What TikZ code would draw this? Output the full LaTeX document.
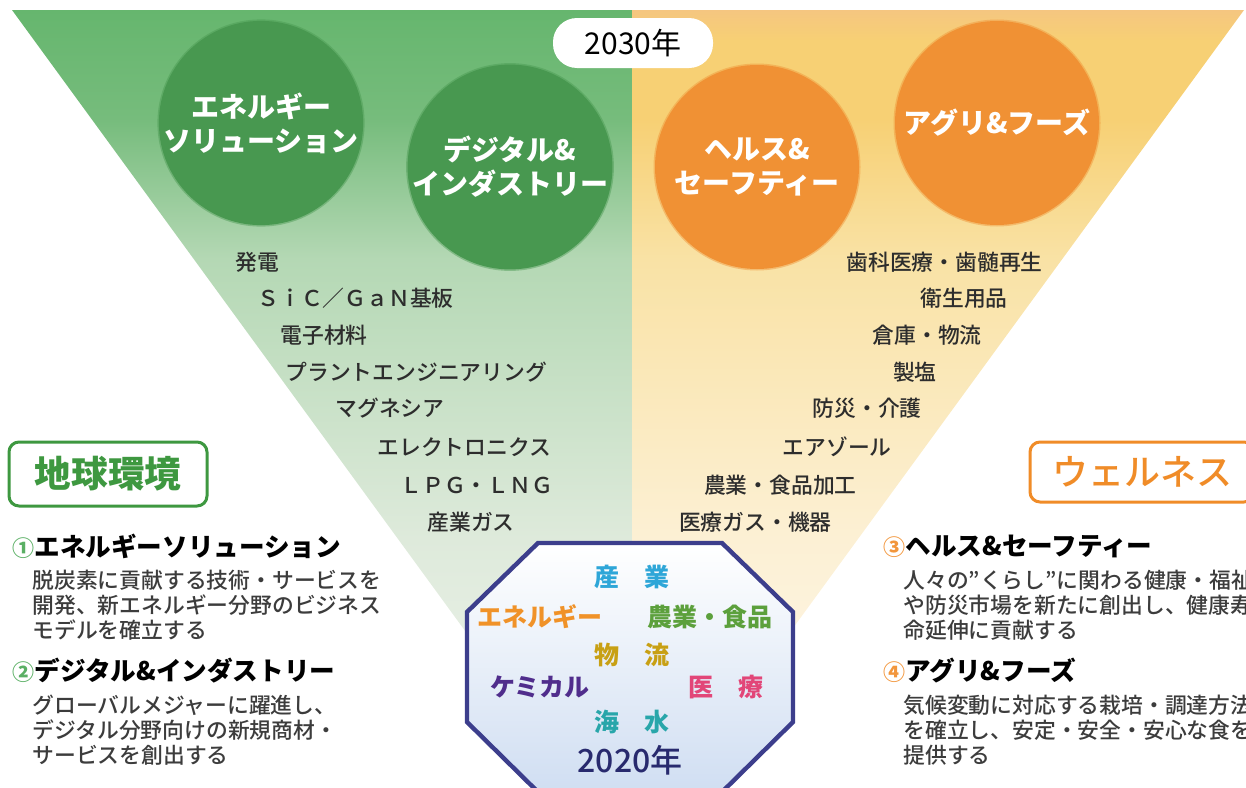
\documentclass[tikz,border=0pt]{standalone}
\usepackage{fontspec}
\setmainfont{Noto Sans CJK JP}
\newfontfamily\cjkmed{Noto Sans CJK JP Medium}
\definecolor{fanGa}{RGB}{240,244,238}
\definecolor{fanGb}{RGB}{222,234,219}
\definecolor{fanGc}{RGB}{180,216,180}
\definecolor{fanGd}{RGB}{118,188,124}
\definecolor{fanGe}{RGB}{102,182,110}
\definecolor{fanOa}{RGB}{254,248,236}
\definecolor{fanOb}{RGB}{252,240,212}
\definecolor{fanOc}{RGB}{249,226,165}
\definecolor{fanOd}{RGB}{247,208,116}
\definecolor{fanOe}{RGB}{245,198,128}
\pgfdeclareverticalshading{greenfan}{100bp}{color(0bp)=(fanGa); color(25bp)=(fanGa); color(41bp)=(fanGb); color(59bp)=(fanGc); color(68bp)=(fanGd); color(75bp)=(fanGe); color(100bp)=(fanGe)}
\pgfdeclareverticalshading{orangefan}{100bp}{color(0bp)=(fanOa); color(25bp)=(fanOa); color(41bp)=(fanOb); color(59bp)=(fanOc); color(68bp)=(fanOd); color(73bp)=(fanOd); color(75bp)=(fanOe); color(100bp)=(fanOe)}
\definecolor{leafgreen}{RGB}{72,152,80}
\definecolor{sunorange}{RGB}{240,145,52}
\definecolor{badgegreen}{RGB}{62,152,64}
\definecolor{badgeorange}{RGB}{240,140,40}
\definecolor{numgreen}{RGB}{90,175,100}
\definecolor{numorange}{RGB}{242,150,60}
\definecolor{listgray}{RGB}{45,45,45}
\definecolor{bodygray}{RGB}{60,60,60}
\definecolor{octline}{RGB}{60,62,140}
\definecolor{octblue}{RGB}{208,222,242}
\definecolor{wSangyo}{RGB}{46,166,216}
\definecolor{wEnergy}{RGB}{240,146,40}
\definecolor{wFood}{RGB}{92,160,60}
\definecolor{wLogi}{RGB}{200,160,20}
\definecolor{wChem}{RGB}{80,45,140}
\definecolor{wMed}{RGB}{226,70,120}
\definecolor{wSea}{RGB}{40,166,170}
\definecolor{wYear}{RGB}{40,42,110}
\newcommand{\greennum}[1]{{\color{numgreen}\fontsize{11}{11}\selectfont#1}}
\newcommand{\orangenum}[1]{{\color{numorange}\fontsize{11}{11}\selectfont#1}}
\tikzset{
  bubble/.style={circle, inner sep=0pt, minimum size=102pt, text=white, align=center, draw opacity=0.45, line width=1.5pt, font=\bfseries\fontsize{14}{17}\selectfont},
  item/.style={inner sep=0pt, text=listgray, font=\cjkmed\fontsize{10.9}{12}\selectfont},
  head/.style={inner sep=0pt, anchor=west, font=\bfseries\fontsize{12.8}{14}\selectfont},
  body/.style={inner sep=0pt, anchor=west, align=left, text=bodygray, font=\cjkmed\fontsize{10.9}{12.5}\selectfont},
  badge/.style={draw, line width=1.5pt, rounded corners=5pt, inner sep=0pt, fill=white},
  octword/.style={inner sep=0pt, font=\bfseries\fontsize{12.5}{14}\selectfont},
  pill/.style={fill=white, rounded corners=12pt, minimum width=80pt, minimum height=25pt, inner sep=0pt, font=\fontsize{15}{15}\selectfont}
}
\begin{document}
\begin{tikzpicture}[x=0.5pt,y=-0.5pt]
\useasboundingbox (0,0) rectangle (1246,787);
\begin{scope}
\clip (0,0) rectangle (1246,787);
\shade[shading=greenfan] (12,10) -- (632,10) -- (632,787) -- (579,787) -- cycle;
\shade[shading=orangefan] (632,10) -- (1244,10) -- (677,787) -- (632,787) -- cycle;
\shadedraw[top color=white, bottom color=octblue, draw=octline, line width=2.2pt] (538,543) -- (722,543) -- (793,612) -- (793,722) -- (722,792) -- (538,792) -- (467,722) -- (467,612) -- cycle;
\end{scope}
\node[pill] (y2030) at (633,43) {2030年};
\node[bubble, fill=leafgreen, draw=leafgreen] (energy) at (261,123) {エネルギー\\ソリューション};
\node[bubble, fill=leafgreen, draw=leafgreen] (digital) at (510,167) {デジタル\&\\インダストリー};
\node[bubble, fill=sunorange, draw=sunorange] (health) at (757,167) {ヘルス\&\\セーフティー};
\node[bubble, fill=sunorange, draw=sunorange] (agri) at (997,123) {アグリ\&フーズ};
\node[item, anchor=west] (hatsuden) at (235,262) {発電};
\node[item, anchor=west] (sic) at (257,298) {ＳｉＣ／ＧａＮ基板};
\node[item, anchor=west] (denshi) at (280,335) {電子材料};
\node[item, anchor=west] (plant) at (285,372) {プラントエンジニアリング};
\node[item, anchor=west] (magne) at (335,408) {マグネシア};
\node[item, anchor=west] (elec) at (377,447) {エレクトロニクス};
\node[item, anchor=west] (lpg) at (400,485) {ＬＰＧ・ＬＮＧ};
\node[item, anchor=west] (gas) at (427,522) {産業ガス};
\node[item, anchor=east] (shika) at (1043,262) {歯科医療・歯髄再生};
\node[item, anchor=east] (eisei) at (1008,298) {衛生用品};
\node[item, anchor=east] (souko) at (982,335) {倉庫・物流};
\node[item, anchor=east] (seien) at (937,372) {製塩};
\node[item, anchor=east] (bousai) at (922,408) {防災・介護};
\node[item, anchor=east] (aerosol) at (892,447) {エアゾール};
\node[item, anchor=east] (nougyou) at (857,485) {農業・食品加工};
\node[item, anchor=east] (iryou) at (832,522) {医療ガス・機器};
\node[octword, text=wSangyo] (sangyo) at (632,577) {産　業};
\node[octword, text=wEnergy] (octenergy) at (540,617) {エネルギー};
\node[octword, text=wFood] (food) at (710,617) {農業・食品};
\node[octword, text=wLogi] (logi) at (632,655) {物　流};
\node[octword, text=wChem] (chem) at (540,687) {ケミカル};
\node[octword, text=wMed] (med) at (726,687) {医　療};
\node[octword, text=wSea] (sea) at (632,722) {海　水};
\node[inner sep=0pt, text=wYear, font=\cjkmed\fontsize{16}{16}\selectfont] (y2020) at (630,760) {2020年};
\node[badge, draw=badgegreen, text=badgegreen, minimum width=99pt, minimum height=32pt, font=\bfseries\fontsize{18.3}{20}\selectfont] (chikyu) at (108,474) {地球環境};
\node[badge, draw=badgeorange, text=badgeorange, minimum width=112pt, minimum height=30pt, font=\cjkmed\fontsize{18}{20}\selectfont] (wellness) at (1142,472) {ウェルネス};
\node[head] (h1) at (12,546) {\greennum{①}エネルギーソリューション};
\node[body] (b1) at (32,605) {脱炭素に貢献する技術・サービスを\\開発、新エネルギー分野のビジネス\\モデルを確立する};
\node[head] (h2) at (12,671) {\greennum{②}デジタル\&インダストリー};
\node[body] (b2) at (32,730) {グローバルメジャーに躍進し、\\デジタル分野向けの新規商材・\\サービスを創出する};
\node[head] (h3) at (883,546) {\orangenum{③}ヘルス\&セーフティー};
\node[body] (b3) at (903,605) {人々の”くらし”に関わる健康・福祉\\や防災市場を新たに創出し、健康寿\\命延伸に貢献する};
\node[head] (h4) at (883,671) {\orangenum{④}アグリ\&フーズ};
\node[body] (b4) at (903,730) {気候変動に対応する栽培・調達方法\\を確立し、安定・安全・安心な食を\\提供する};
\end{tikzpicture}
\end{document}
